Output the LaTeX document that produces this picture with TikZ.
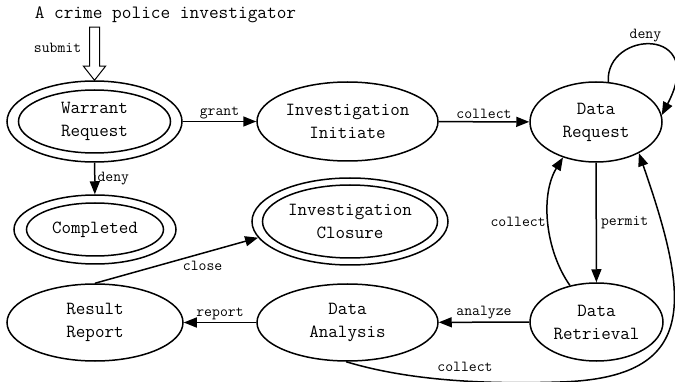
\documentclass[tikz,border=0pt]{standalone}
\usepackage{fontspec}
\usetikzlibrary{shapes.geometric,arrows.meta}
\begin{document}
\begin{tikzpicture}[x=1pt,y=-1pt, line width=1.5pt,
  st/.style={ellipse, draw, inner sep=0pt, align=center, font=\fontsize{18.5}{23}\selectfont\ttfamily},
  innerell/.style={ellipse, draw, inner sep=0pt},
  lbl/.style={font=\fontsize{15.3}{18}\selectfont\ttfamily, inner sep=2pt},
  arr/.style={-{Triangle[length=13pt,width=10pt]}}]
\useasboundingbox (0,0) rectangle (675,382);
% states
\node[st, minimum width=175pt, minimum height=81pt] (wr) at (94.5,121.5) {Warrant\\Request};
\node[innerell, minimum width=152pt, minimum height=63pt] (wri) at (wr.center) {};
\node[st, minimum width=181pt, minimum height=79pt] (ii) at (347.5,121.5) {Investigation\\Initiate};
\node[st, minimum width=132pt, minimum height=80pt] (dr) at (596,122) {Data\\Request};
\node[st, minimum width=162pt, minimum height=69pt] (co) at (95,229.5) {Completed};
\node[innerell, minimum width=137pt, minimum height=53pt] (coi) at (co.center) {};
\node[st, minimum width=196pt, minimum height=87pt] (ic) at (350,221.5) {Investigation\\Closure};
\node[innerell, minimum width=175pt, minimum height=73pt] (ici) at (ic.center) {};
\node[st, minimum width=176pt, minimum height=77pt] (rr) at (95,322.5) {Result\\Report};
\node[st, minimum width=181pt, minimum height=77pt] (dan) at (347.5,322.5) {Data\\Analysis};
\node[st, minimum width=133pt, minimum height=78pt] (dre) at (596.5,322) {Data\\Retrieval};
% actor
\node[font=\fontsize{18.8}{22}\selectfont\ttfamily, anchor=west, inner sep=0pt] (actor) at (34,15) {A crime police investigator};
\draw[line width=1pt, fill=white] (wr.north) -- ++(-11,-14) -- ++(6,0) -- ++(0,-39) -- ++(10,0) -- ++(0,39) -- ++(6,0) -- cycle;
\node[lbl, anchor=east] (sub) at (84,48) {submit};
% transitions
\draw[arr] (wr) -- (ii) node[lbl, midway, above] {grant};
\draw[arr] (ii) -- (dr) node[lbl, midway, above] {collect};
\draw[arr] (wr) -- (co) node[lbl, midway, right] {deny};
\draw[arr] (dr) -- (dre) node[lbl, midway, right, xshift=2pt] {permit};
\draw[arr] (dre) -- (dan) node[lbl, midway, above] {analyze};
\draw[arr] (dan) -- (rr) node[lbl, midway, above] {report};
\draw[arr] (rr.north) -- (ic.190) node[lbl, pos=0.66, below=5pt] {close};
\draw[arr] (dr.73) .. controls +(-3,-52) and +(47,-90) .. (dr.6) node[lbl, pos=0.45, above] {deny};
\draw[arr] (dre.126) .. controls (545,250) and (540,195) .. (dr.227) node[lbl, pos=0.5, left] {collect};
\draw[arr] (dan.-92) .. controls (400,378) and (470,385) .. (560,382) .. controls (700,378) and (690,300) .. (dr.-36);
\node[lbl] (col2) at (465,367) {collect};
\end{tikzpicture}
\end{document}
